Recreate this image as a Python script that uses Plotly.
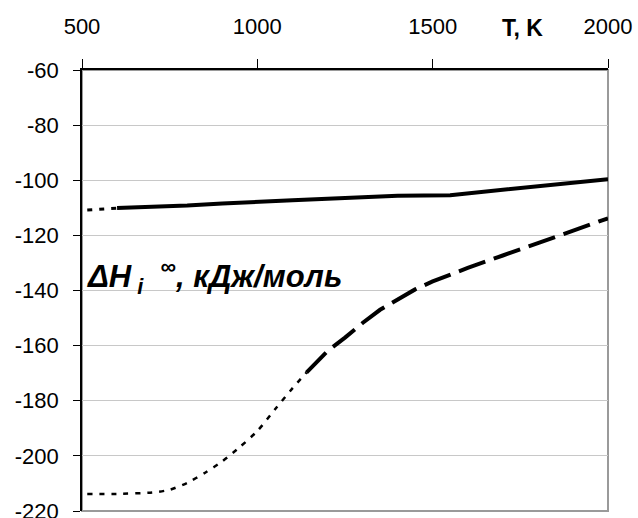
import plotly.graph_objects as go

# Temperature axis ticks and dH axis ticks
x_ticks = [500, 1000, 1500, 2000]
x_labels = ["500", "1000", "1500", "2000"]
y_ticks = [-60, -80, -100, -120, -140, -160, -180, -200, -220]
y_labels = ["-60", "-80", "-100", "-120", "-140", "-160", "-180", "-200", "-220"]

# Upper curve: extrapolated part (dotted) and computed part (solid)
T_upper_ext = [515, 600]
dH_upper_ext = [-110.8, -110.1]
T_upper = [600, 700, 800, 900, 1000, 1100, 1200, 1300, 1400, 1550, 1700, 1850, 2000]
dH_upper = [-110.1, -109.8, -109.2, -108.4, -107.7, -107.3, -106.7, -106.0, -105.6,
            -105.4, -103.4, -101.5, -99.6]

# Lower curve: extrapolated part (dotted) and computed part (dashed)
T_lower_ext = [515, 600, 700, 750, 800, 850, 900, 950, 1000, 1050, 1100, 1140]
dH_lower_ext = [-213.8, -213.8, -213.3, -212.3, -209.8, -206.2, -202.0, -196.8,
                -191.0, -183.2, -175.5, -169.8]
T_lower = [1140, 1200, 1250, 1300, 1350, 1400, 1450, 1500, 1600, 1700, 1800, 1900, 2000]
dH_lower = [-169.8, -162.0, -157.1, -151.8, -147.0, -143.2, -139.6, -136.7, -131.8,
            -127.3, -122.8, -118.5, -113.8]

FONT = "Liberation Sans, Arial, sans-serif"

fig = go.Figure()
fig.add_trace(go.Scatter(x=T_upper_ext, y=dH_upper_ext, mode="lines",
                         line=dict(color="black", width=3, dash="5px,7px")))
fig.add_trace(go.Scatter(x=T_upper, y=dH_upper, mode="lines",
                         line=dict(color="black", width=4)))
fig.add_trace(go.Scatter(x=T_lower_ext, y=dH_lower_ext, mode="lines",
                         line=dict(color="black", width=2.5, dash="5px,7px",
                                   shape="spline", smoothing=0.6)))
fig.add_trace(go.Scatter(x=T_lower, y=dH_lower, mode="lines",
                         line=dict(color="black", width=4, dash="28px,9px")))

# gray frame of the plotting area
fig.add_shape(type="rect", xref="paper", yref="paper", x0=0, x1=1, y0=0, y1=1,
              line=dict(color="#9a9a9a", width=2), layer="below")

fig.add_annotation(x=0.005, y=-135, xref="paper", yref="y",
                   text="<b><i>ΔH<sub> i</sub>  <sup>∞</sup>, кДж/моль</i></b>",
                   showarrow=False, xanchor="left", yanchor="middle",
                   font=dict(family=FONT, size=31, color="black"))
fig.add_annotation(x=1755, y=1, xref="x", yref="paper",
                   text="<b>T, K</b>", showarrow=False, xanchor="center",
                   yanchor="bottom", yshift=27,
                   font=dict(family=FONT, size=23, color="black"))

fig.update_layout(
    width=638, height=518,
    margin=dict(l=82, r=30, t=70, b=7),
    paper_bgcolor="white", plot_bgcolor="white",
    showlegend=False,
    font=dict(family=FONT, size=22, color="black"),
    xaxis=dict(range=[500, 2000], side="top", tickvals=x_ticks, ticktext=x_labels,
               showgrid=False, zeroline=False, showline=True,
               linecolor="black", linewidth=1.5, ticks="outside",
               ticklen=9, tickcolor="black", tickwidth=1,
               ticklabelstandoff=16, ticklabeloverflow="allow", automargin=False,
               tickfont=dict(family=FONT, size=22, color="black")),
    yaxis=dict(range=[-220, -60], tickvals=y_ticks, ticktext=y_labels,
               showgrid=True, gridcolor="#c8c8c8", gridwidth=1, zeroline=False,
               showline=True, linecolor="black", linewidth=1.5,
               ticks="outside", ticklen=7, tickcolor="black", tickwidth=1,
               ticklabelstandoff=10, ticklabeloverflow="allow", automargin=False,
               tickfont=dict(family=FONT, size=22, color="black")),
)

fig.write_html("out.html")
